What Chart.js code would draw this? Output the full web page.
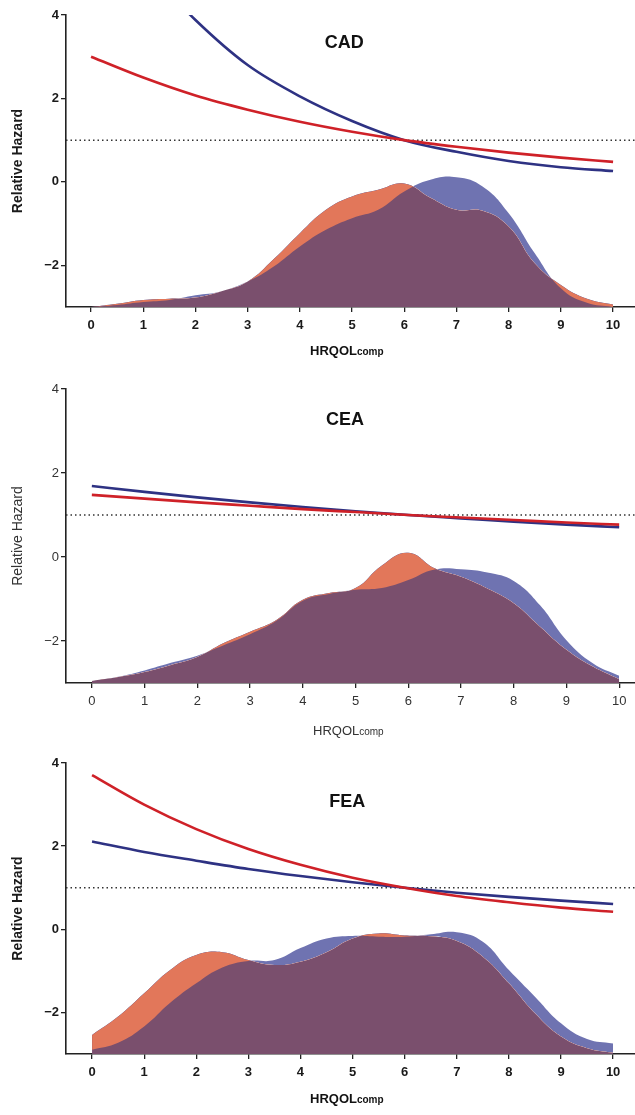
<!DOCTYPE html>
<html>
<head>
<meta charset="utf-8">
<title>Relative Hazard by HRQOLcomp</title>
<script src="https://cdn.jsdelivr.net/npm/chart.js@4.4.1/dist/chart.umd.min.js"></script>
<style>
  body { margin: 0; background: #fff; }
  .panel { position: absolute; left: 0; width: 635px; }
  canvas { display: block; }
</style>
</head>
<body>
<div class="panel" style="top:0"><canvas id="cad" width="635" height="370"></canvas></div>
<div class="panel" style="top:370px"><canvas id="cea" width="635" height="380"></canvas></div>
<div class="panel" style="top:750px"><canvas id="fea" width="635" height="365"></canvas></div>
<script>
// x positions of the hazard curves and of the density outlines
const hazardX = [0, 1, 2, 3, 4, 5, 6, 7, 8, 9, 10];
const densityX = [0, 0.5, 1, 1.5, 2, 2.5, 3, 3.5, 4, 4.5, 5, 5.5, 6, 6.5, 7, 7.5, 8, 8.5, 9, 9.5, 10];
const yTicks = [-2, 0, 2, 4];
const xTicks = [0, 1, 2, 3, 4, 5, 6, 7, 8, 9, 10];
const refHazard = 1;

// CAD
const cadRed = [3.0, 2.5, 2.07, 1.73, 1.44, 1.2, 1.0, 0.84, 0.7, 0.58, 0.48];
const cadBlue = [null, 5.2, 3.88, 2.8, 2.05, 1.46, 1.0, 0.72, 0.5, 0.35, 0.26];
const cadOrangeDens = [-3.0, -2.92, -2.83, -2.8, -2.77, -2.62, -2.39, -1.85, -1.23, -0.67, -0.35, -0.19, -0.04, -0.38, -0.67, -0.69, -1.07, -1.95, -2.47, -2.8, -2.94];
const cadBlueDens = [-3.0, -2.95, -2.88, -2.83, -2.72, -2.62, -2.39, -2.03, -1.55, -1.15, -0.87, -0.67, -0.23, 0.05, 0.11, -0.11, -0.75, -1.71, -2.55, -2.9, -3.0];

// CEA
const ceaRed = [1.48, 1.39, 1.30, 1.22, 1.14, 1.07, 1.0, 0.94, 0.88, 0.82, 0.77];
const ceaBlue = [1.69, 1.55, 1.42, 1.30, 1.19, 1.09, 1.0, 0.92, 0.84, 0.77, 0.71];
const ceaOrangeDens = [-2.95, -2.86, -2.74, -2.57, -2.38, -2.05, -1.78, -1.5, -1.02, -0.86, -0.74, -0.2, 0.1, -0.27, -0.47, -0.75, -1.1, -1.66, -2.21, -2.61, -2.91];
const ceaBlueDens = [-2.95, -2.85, -2.7, -2.52, -2.35, -2.1, -1.84, -1.52, -1.04, -0.88, -0.78, -0.74, -0.55, -0.3, -0.29, -0.37, -0.57, -1.15, -1.98, -2.53, -2.83];

// FEA
const feaRed = [3.71, 3.0, 2.41, 1.93, 1.55, 1.24, 1.0, 0.8, 0.65, 0.52, 0.42];
const feaBlue = [2.11, 1.86, 1.65, 1.45, 1.28, 1.13, 1.0, 0.88, 0.78, 0.69, 0.61];
const feaOrangeDens = [-2.54, -2.1, -1.54, -0.98, -0.62, -0.55, -0.74, -0.86, -0.78, -0.55, -0.22, -0.1, -0.15, -0.17, -0.28, -0.66, -1.3, -2.02, -2.58, -2.86, -2.97];
const feaBlueDens = [-2.9, -2.73, -2.34, -1.77, -1.3, -0.92, -0.76, -0.74, -0.45, -0.22, -0.16, -0.18, -0.18, -0.12, -0.07, -0.3, -0.98, -1.62, -2.26, -2.64, -2.75];

const FONT = '"Liberation Sans", Arial, Helvetica, sans-serif';
const RED = '#cf2128';
const NAVY = '#2e3283';
const ORANGE_ONLY = '#e2775a';
const BLUE_ONLY = '#6f73b1';
const OVERLAP = '#7a4f6d';

const panels = [
  { id: 'cad', title: 'CAD', red: cadRed, blue: cadBlue, orangeDens: cadOrangeDens, blueDens: cadBlueDens,
    top: 15, band: 63, xMin: -0.48, xMax: 10.42, bold: true, titleAt: [4.85, 3.33], xTitleLeft: 310, xTitleDrop: 48 },
  { id: 'cea', title: 'CEA', red: ceaRed, blue: ceaBlue, orangeDens: ceaOrangeDens, blueDens: ceaBlueDens,
    top: 19, band: 67, xMin: -0.49, xMax: 10.3, bold: false, titleAt: [4.8, 3.25], xTitleLeft: 313, xTitleDrop: 52 },
  { id: 'fea', title: 'FEA', red: feaRed, blue: feaBlue, orangeDens: feaOrangeDens, blueDens: feaBlueDens,
    top: 13, band: 61, xMin: -0.5, xMax: 10.42, bold: true, titleAt: [4.9, 3.05], xTitleLeft: 310, xTitleDrop: 49 }
];

function pts(xs, ys) {
  return xs.map((x, i) => ({ x: x, y: ys[i] })).filter(p => p.y !== null);
}

// panel label inside the plot and the x title with its small "comp" suffix
const panelText = {
  id: 'panelText',
  afterDraw(chart, args, opts) {
    const { ctx, chartArea, scales } = chart;
    ctx.save();
    ctx.fillStyle = '#111';
    ctx.textAlign = 'center';
    ctx.textBaseline = 'middle';
    ctx.font = 'bold 18px ' + FONT;
    ctx.fillText(opts.title, scales.x.getPixelForValue(opts.titleAt[0]), scales.y.getPixelForValue(opts.titleAt[1]));

    ctx.textAlign = 'left';
    ctx.textBaseline = 'alphabetic';
    const base = chartArea.bottom + opts.drop;
    ctx.fillStyle = opts.bold ? '#111' : '#333';
    ctx.font = (opts.bold ? 'bold ' : '') + '13px ' + FONT;
    ctx.fillText('HRQOL', opts.left, base);
    const w = ctx.measureText('HRQOL').width;
    ctx.font = (opts.bold ? 'bold ' : '') + '10px ' + FONT;
    ctx.fillText('comp', opts.left + w, base);
    ctx.restore();
  }
};

panels.forEach(p => {
  const tickColor = p.bold ? '#1a1a1a' : '#333';
  const tickFont = { family: FONT, size: 13, weight: p.bold ? 'bold' : 'normal' };

  new Chart(document.getElementById(p.id), {
    type: 'line',
    data: {
      datasets: [
        { data: pts(hazardX, p.red), borderColor: RED, borderWidth: 2.6, pointRadius: 0,
          cubicInterpolationMode: 'monotone', fill: false },
        { data: pts(hazardX, p.blue), borderColor: NAVY, borderWidth: 2.6, pointRadius: 0,
          cubicInterpolationMode: 'monotone', fill: false },
        { data: [{ x: p.xMin, y: refHazard }, { x: p.xMax, y: refHazard }], borderColor: '#333',
          borderWidth: 1.5, borderDash: [1.5, 3], pointRadius: 0, fill: false },
        // blue density: only the parts outside the orange one get a flat colour
        { data: pts(densityX, p.blueDens), borderWidth: 0, pointRadius: 0, tension: 0.45,
          fill: { target: 4, above: BLUE_ONLY, below: ORANGE_ONLY } },
        // orange density filled with the shared colour
        { data: pts(densityX, p.orangeDens), borderWidth: 0, pointRadius: 0, tension: 0.45,
          backgroundColor: OVERLAP, fill: 'start' }
      ]
    },
    options: {
      responsive: false,
      animation: false,
      devicePixelRatio: 1,
      layout: { padding: { top: p.top, left: 0, right: 0, bottom: 0 } },
      plugins: {
        legend: { display: false },
        tooltip: { enabled: false },
        panelText: { title: p.title, titleAt: p.titleAt, left: p.xTitleLeft, drop: p.xTitleDrop, bold: p.bold }
      },
      scales: {
        x: {
          type: 'linear',
          min: p.xMin,
          max: p.xMax,
          afterFit(s) { s.height = p.band; },
          afterBuildTicks(s) { s.ticks = xTicks.map(v => ({ value: v })); },
          grid: { drawOnChartArea: false, drawTicks: true, tickLength: 5, color: '#222', lineWidth: 1.3 },
          border: { display: true, color: '#222', width: 1.6 },
          ticks: { color: tickColor, font: tickFont, padding: 6, autoSkip: false, maxRotation: 0 }
        },
        y: {
          min: -3,
          max: 4,
          afterFit(s) { s.width = 66; },
          afterBuildTicks(s) { s.ticks = yTicks.map(v => ({ value: v })); },
          grid: { drawOnChartArea: false, drawTicks: true, tickLength: 5, color: '#222', lineWidth: 1.3 },
          border: { display: true, color: '#222', width: 1.6 },
          ticks: {
            color: tickColor, font: tickFont, padding: 2,
            callback: v => (v < 0 ? '\u2212' + Math.abs(v) : String(v))
          },
          title: {
            display: true,
            text: 'Relative Hazard',
            color: tickColor,
            font: { family: FONT, size: 14, weight: p.bold ? 'bold' : 'normal' },
            padding: { top: 10, bottom: 0 }
          }
        }
      }
    },
    plugins: [panelText]
  });
});
</script>
</body>
</html>
